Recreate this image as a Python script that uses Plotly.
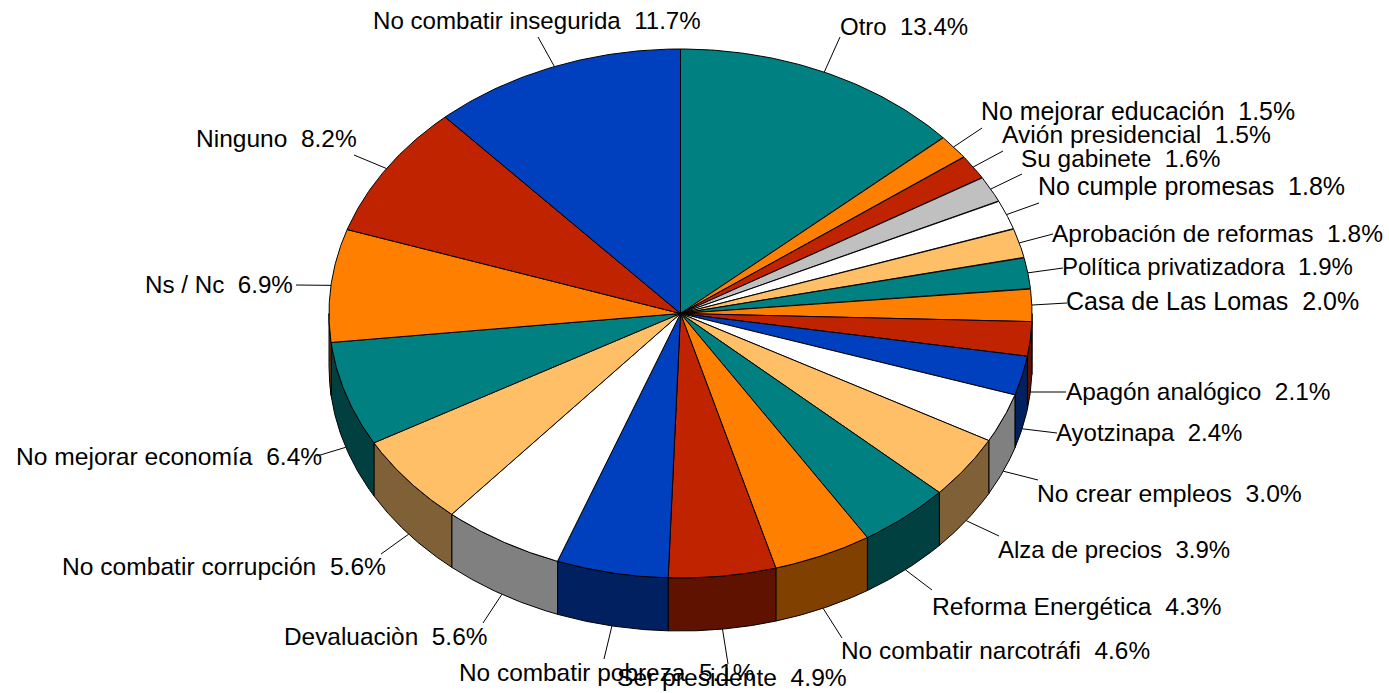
import numpy as np
import plotly.graph_objects as go

# slices, clockwise from the top
categories = ['Otro', 'No mejorar educación', 'Avión presidencial', 'Su gabinete',
              'No cumple promesas', 'Aprobación de reformas', 'Política privatizadora',
              'Casa de Las Lomas', 'Apagón analógico', 'Ayotzinapa', 'No crear empleos',
              'Alza de precios', 'Reforma Energética', 'No combatir narcotráfi',
              'Ser presidente', 'No combatir pobreza', 'Devaluaciòn',
              'No combatir corrupción', 'No mejorar economía', 'Ns / Nc', 'Ninguno',
              'No combatir insegurida']
# second decimal estimated from the slice edges, labels show one decimal
values = [13.44, 1.5, 1.5, 1.6, 1.8, 1.8, 1.9, 2.0, 2.1, 2.4, 3.0,
          3.86, 4.26, 4.56, 4.94, 5.14, 5.6, 5.6, 6.4, 6.9, 8.2, 11.7]

TEAL, ORANGE, RED, BLUE = '#008080', '#FF8000', '#BF2300', '#0040BF'
WHITE, SAND, GREY = '#FFFFFF', '#FFBF66', '#C0C0C0'
top_colors = [TEAL, ORANGE, RED, GREY, WHITE, SAND, TEAL, ORANGE, RED, BLUE, WHITE,
              SAND, TEAL, ORANGE, RED, BLUE, WHITE, SAND, TEAL, ORANGE, RED, BLUE]
side_of = {TEAL: '#004040', ORANGE: '#804000', RED: '#601200', BLUE: '#002060',
           WHITE: '#808080', SAND: '#806036', GREY: '#606060'}

# label placement in page pixels (left edge, middle of text) and leader line end
label_x = [840, 981, 1002, 1021, 1038, 1052, 1062, 1066, 1066, 1056, 1037,
           998, 932, 841, 617, 459, 284, 62, 16, 145, 196, 373]
label_y = [26, 111, 134, 158, 186, 233, 266, 301, 391, 432, 493,
           549, 606, 650, 677, 672, 636, 566, 456, 284, 138, 20]
label_size = [24, 24.9, 24.6, 24.4, 25, 24.5, 24, 25, 24.4, 24, 24.7,
              24, 24.7, 24.4, 24.6, 24.4, 24.4, 24.6, 24.6, 24.2, 24.5, 24.1]
leader_x = [840, 982, 1003, 1022, 1039, 1053, 1063, 1067, 1066, 1057, 1038,
            999, 932, 842, 728, 604, 483, 381, 317, 296, 354, 538]
leader_y = [37, 128, 151, 174, 203, 234, 268, 303, 392, 433, 480,
            536, 590, 638, 664, 659, 623, 554, 456, 285, 155, 37]

CX, CY, RX, RY, DEPTH = 680.5, 313.5, 351.5, 264.5, 53

shares = np.array(values) / sum(values) * 2 * np.pi
ends = np.cumsum(shares)
starts = ends - shares


def rim(a, drop=0):
    return CX + RX * np.sin(a), CY - RY * np.cos(a) + drop


def poly(fig, x, y, color):
    fig.add_trace(go.Scatter(x=x, y=y, mode='lines', fill='toself', fillcolor=color,
                             line=dict(color='black', width=1), hoverinfo='skip'))


fig = go.Figure()

# outer wall, only the part that faces the viewer
for a0, a1, c in zip(starts, ends, top_colors):
    lo, hi = max(a0, np.pi / 2), min(a1, 3 * np.pi / 2)
    if hi <= lo:
        continue
    t = np.linspace(lo, hi, 60)
    xt, yt = rim(t)
    xb, yb = rim(t[::-1], DEPTH)
    poly(fig, np.r_[xt, xb, xt[0]], np.r_[yt, yb, yt[0]], side_of[c])

# top face
for a0, a1, c in zip(starts, ends, top_colors):
    t = np.linspace(a0, a1, 60)
    xt, yt = rim(t)
    poly(fig, np.r_[CX, xt, CX], np.r_[CY, yt, CY], c)

# leader lines
for a0, a1, lx, ly in zip(starts, ends, leader_x, leader_y):
    mid = (a0 + a1) / 2
    x0, y0 = rim(mid, DEPTH if np.cos(mid) < 0 else 0)
    fig.add_trace(go.Scatter(x=[x0, lx], y=[y0, ly], mode='lines',
                             line=dict(color='black', width=1), hoverinfo='skip'))

for name, v, x, y, s in zip(categories, values, label_x, label_y, label_size):
    fig.add_annotation(x=x, y=y, text=f'{name}\u00a0 {v:.1f}%', showarrow=False,
                       xanchor='left', yanchor='middle', borderpad=0, borderwidth=0,
                       font=dict(family='Liberation Sans', size=s, color='black'))

fig.update_layout(width=1389, height=693, showlegend=False,
                  margin=dict(l=0, r=0, t=0, b=0),
                  paper_bgcolor='white', plot_bgcolor='white',
                  xaxis=dict(range=[0, 1389], visible=False),
                  yaxis=dict(range=[693, 0], visible=False))

fig.write_html('out.html', config={'displayModeBar': False},
               post_script="document.body.style.margin='0';")
